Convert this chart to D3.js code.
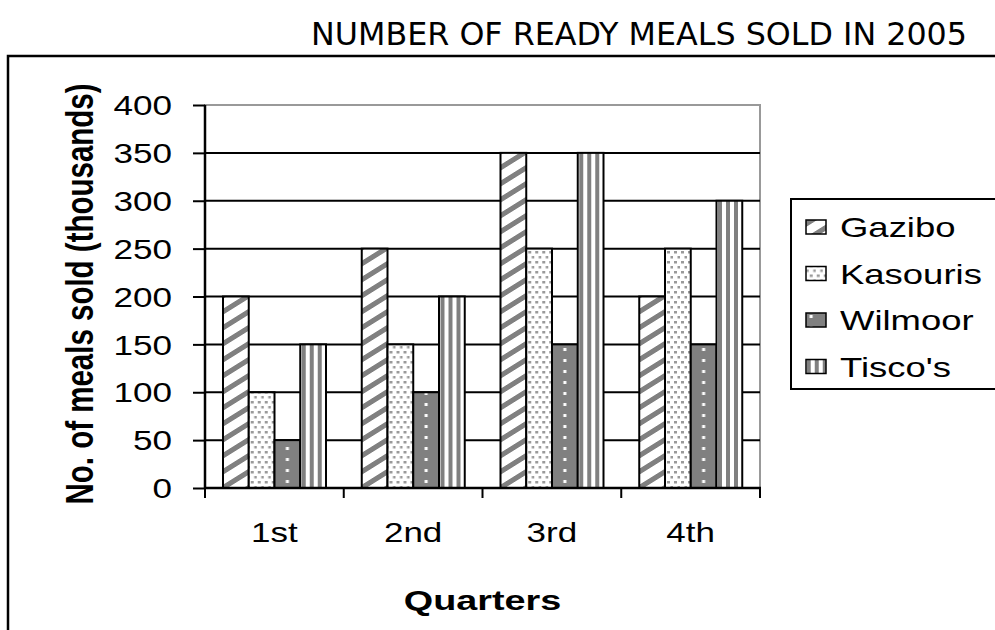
<!DOCTYPE html>
<html>
<head>
<meta charset="utf-8">
<script src="https://cdn.jsdelivr.net/npm/d3@7"></script>
<style>
  body { margin: 0; background: #fff; }
  svg { display: block; }
</style>
</head>
<body>
<svg width="995" height="630"></svg>
<script>
// data (thousands of meals)
var quarters = ['1st', '2nd', '3rd', '4th'];
var shops = ['Gazibo', 'Kasouris', 'Wilmoor', "Tisco's"];
var gazibo = [200, 250, 350, 200];
var kasouris = [100, 150, 250, 250];
var wilmoor = [50, 100, 150, 150];
var tiscos = [150, 200, 350, 300];
var yTicks = [0, 50, 100, 150, 200, 250, 300, 350, 400];

var series = [gazibo, kasouris, wilmoor, tiscos];
var fills = ['url(#pGaz)', 'url(#pKas)', 'url(#pWil)', 'url(#pTis)'];

var svg = d3.select('svg');
var grey = '#808080';
var arial = "'Liberation Sans', Arial, sans-serif";
var stretch = 1.3; // the picture's text is wider than plain Arial

// ---- scales
var pLeft = 205, pRight = 760, pTop = 105, pBottom = 488;
var x0 = d3.scaleBand().domain(quarters).range([pLeft, pRight]);
var x1 = d3.scaleBand().domain(shops).range([18, 121]);
var y = d3.scaleLinear().domain([0, 400]).range([pBottom, pTop]);
var bw = x1.bandwidth();

// ---- patterns (user space = bar group space, so x1 lines them up)
var defs = svg.append('defs');

var p = defs.append('pattern').attr('id', 'pGaz').attr('patternUnits', 'userSpaceOnUse')
  .attr('width', 10).attr('height', 16).attr('patternTransform', 'skewY(-32)');
p.append('rect').attr('width', 10).attr('height', 16).attr('fill', '#fff');
p.append('rect').attr('width', 10).attr('height', 6).attr('fill', grey);

p = defs.append('pattern').attr('id', 'pKas').attr('patternUnits', 'userSpaceOnUse')
  .attr('width', 7).attr('height', 10).attr('x', x1('Kasouris') + 1);
p.append('rect').attr('width', 7).attr('height', 10).attr('fill', '#fff');
p.append('rect').attr('x', 1).attr('y', 1).attr('width', 3).attr('height', 2.5).attr('fill', '#9a9a9a');
p.append('rect').attr('x', 4.5).attr('y', 6).attr('width', 2.5).attr('height', 2.5).attr('fill', '#9a9a9a');

p = defs.append('pattern').attr('id', 'pWil').attr('patternUnits', 'userSpaceOnUse')
  .attr('width', bw).attr('height', 11).attr('x', x1('Wilmoor')).attr('y', 7);
p.append('rect').attr('width', bw).attr('height', 11).attr('fill', grey);
p.append('rect').attr('x', bw / 2 - 1.5).attr('y', 0).attr('width', 3).attr('height', 3).attr('fill', '#fff');

p = defs.append('pattern').attr('id', 'pTis').attr('patternUnits', 'userSpaceOnUse')
  .attr('width', 8).attr('height', 8).attr('x', x1("Tisco's") + 1.5);
p.append('rect').attr('width', 8).attr('height', 8).attr('fill', '#fff');
p.append('rect').attr('width', 4).attr('height', 8).attr('fill', grey);

// ---- outer frame + title
svg.append('path').attr('d', 'M8,630V56H1000').attr('fill', 'none')
  .attr('stroke', '#000').attr('stroke-width', 2.5);

svg.append('text').attr('x', 311).attr('y', 45)
  .attr('textLength', 656).attr('lengthAdjust', 'spacingAndGlyphs')
  .style('font-family', "'Comic Sans MS', 'DejaVu Sans Condensed', 'Liberation Sans Narrow', sans-serif")
  .style('font-size', '32px')
  .text('NUMBER OF READY MEALS SOLD IN 2005');

// plot border (grey)
svg.append('rect').attr('x', pLeft).attr('y', pTop).attr('width', pRight - pLeft).attr('height', pBottom - pTop)
  .attr('fill', 'none').attr('stroke', '#999').attr('stroke-width', 2);

// gridlines
svg.append('g').selectAll('line').data(yTicks.slice(1, -1)).enter().append('line')
  .attr('x1', pLeft).attr('x2', pRight)
  .attr('y1', function(d) { return y(d); }).attr('y2', function(d) { return y(d); })
  .attr('stroke', '#000').attr('stroke-width', 2);

// bars
var groups = svg.append('g').selectAll('g').data(quarters).enter().append('g')
  .attr('transform', function(q) { return 'translate(' + x0(q) + ',0)'; });

groups.selectAll('rect')
  .data(function(q, i) { return shops.map(function(s, k) { return {s: s, k: k, v: series[k][i]}; }); })
  .enter().append('rect')
  .attr('x', function(d) { return x1(d.s); })
  .attr('width', bw)
  .attr('y', function(d) { return y(d.v); })
  .attr('height', function(d) { return pBottom - y(d.v); })
  .attr('fill', function(d) { return fills[d.k]; })
  .attr('stroke', '#000').attr('stroke-width', 2);

// y axis
var yAxis = svg.append('g').attr('transform', 'translate(' + pLeft + ',0)')
  .call(d3.axisLeft(y).tickValues(yTicks).tickSize(12));
yAxis.select('.domain').attr('stroke-width', 2.5).attr('d', 'M0,' + pTop + 'V' + (pBottom + 1));
yAxis.selectAll('.tick line').attr('stroke-width', 2);
yAxis.selectAll('.tick text')
  .attr('x', 0).attr('dy', '0.36em')
  .attr('transform', 'translate(-33,0) scale(' + stretch + ',1)')
  .style('font-family', arial).style('font-size', '27px').attr('fill', '#000');

// x axis: ticks at band boundaries
var xAxis = svg.append('g').attr('transform', 'translate(0,' + pBottom + ')');
xAxis.append('line').attr('x1', pLeft - 1).attr('x2', pRight + 1).attr('stroke', '#000').attr('stroke-width', 2.5);
xAxis.selectAll('.bt').data(quarters.concat(['end'])).enter().append('line')
  .attr('x1', function(q) { return q === 'end' ? pRight : x0(q); })
  .attr('x2', function(q) { return q === 'end' ? pRight : x0(q); })
  .attr('y1', 0).attr('y2', 10).attr('stroke', '#000').attr('stroke-width', 2);
xAxis.selectAll('text').data(quarters).enter().append('text')
  .attr('transform', function(q) {
    return 'translate(' + (x0(q) + x0.bandwidth() / 2) + ',54) scale(1.25,1)';
  })
  .attr('text-anchor', 'middle')
  .style('font-family', arial).style('font-size', '28px')
  .text(function(q) { return q; });

// axis titles
svg.append('text')
  .attr('transform', 'translate(' + (pLeft + pRight) / 2 + ',610) scale(1.35,1)')
  .attr('text-anchor', 'middle')
  .style('font-family', arial).style('font-size', '28px').style('font-weight', 'bold')
  .text('Quarters');

svg.append('text')
  .attr('transform', 'translate(93,' + 294 + ') scale(' + stretch + ',1) rotate(-90)')
  .attr('text-anchor', 'middle')
  .style('font-family', arial).style('font-size', '29.5px').style('font-weight', 'bold')
  .text('No. of meals sold (thousands)');

// legend
var legend = svg.append('g');
legend.append('rect').attr('x', 791).attr('y', 199).attr('width', 220).attr('height', 190)
  .attr('fill', '#fff').attr('stroke', '#000').attr('stroke-width', 2);
var item = legend.selectAll('g').data(shops).enter().append('g')
  .attr('transform', function(d, i) { return 'translate(806,' + (237 + i * 46.5) + ')'; });
item.append('rect').attr('x', 0).attr('y', -17).attr('width', 20).attr('height', 14)
  .attr('fill', function(d, i) { return fills[i]; }).attr('stroke', '#000').attr('stroke-width', 1.5);
item.append('text')
  .attr('transform', 'translate(34,0) scale(1.28,1)')
  .style('font-family', arial).style('font-size', '28.5px')
  .text(function(d) { return d; });
</script>
</body>
</html>
